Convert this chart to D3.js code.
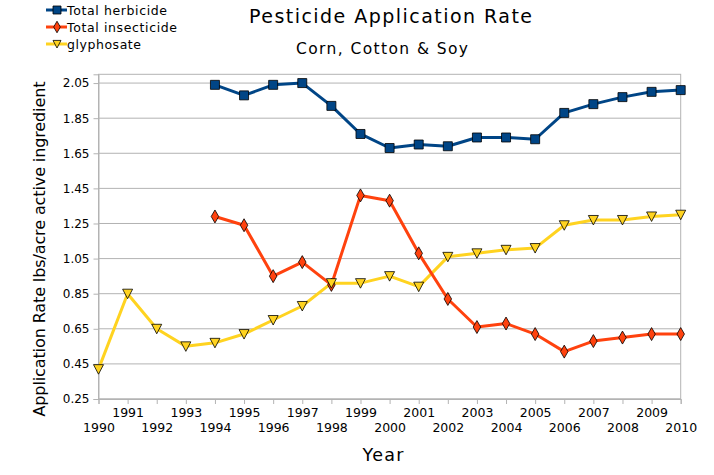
<!DOCTYPE html>
<html><head><meta charset="utf-8">
<script src="https://cdn.jsdelivr.net/npm/d3@7"></script>
<style>body{margin:0;background:#fff}svg{display:block;font-family:"DejaVu Sans",sans-serif}</style>
</head><body><svg id="c" width="714" height="475"></svg>
<script>
const years = d3.range(1990, 2011);
const yTicks = [0.25,0.45,0.65,0.85,1.05,1.25,1.45,1.65,1.85,2.05];
const herbYears = d3.range(1994, 2011);
const herbicide = [2.04,1.98,2.04,2.05,1.92,1.76,1.68,1.70,1.69,1.74,1.74,1.73,1.88,1.93,1.97,2.00,2.01];
const insectYears = d3.range(1994, 2011);
const insecticide = [1.29,1.24,0.95,1.03,0.90,1.41,1.38,1.08,0.82,0.66,0.68,0.62,0.52,0.58,0.60,0.62,0.62];
const glyYears = d3.range(1990, 2011);
const glyphosate = [0.42,0.85,0.65,0.55,0.57,0.62,0.70,0.78,0.91,0.91,0.95,0.89,1.06,1.08,1.10,1.11,1.24,1.27,1.27,1.29,1.30];
const seriesNames = ["Total herbicide","Total insecticide","glyphosate"];
const colors = ["#004586","#ff420e","#ffd320"];
const symbols = [d3.symbolSquare, d3.symbolDiamond, "tri"];

const svg = d3.select("#c");
const L=98.5, R=680.7, T=74.3, B=399;
const x = d3.scalePoint().domain(years).range([L,R]);
const y = d3.scaleLinear().domain([0.25,2.1]).range([B,T]);

// grid
svg.append("g").selectAll("line").data(yTicks).join("line")
 .attr("x1",L).attr("x2",R).attr("y1",d=>y(d)).attr("y2",d=>y(d))
 .attr("stroke","#b3b3b3").attr("stroke-width",1);
svg.append("rect").attr("x",L).attr("y",T).attr("width",R-L).attr("height",B-T)
 .attr("fill","none").attr("stroke","#b3b3b3");

// y axis
const ya = svg.append("g").attr("transform",`translate(${L},0)`)
 .call(d3.axisLeft(y).tickValues(yTicks).tickFormat(d3.format(".2f")).tickSize(5).tickPadding(4));
ya.select(".domain").attr("stroke","#b3b3b3");
ya.selectAll(".tick line").attr("stroke","#b3b3b3");
ya.selectAll("text").attr("font-size",12).attr("font-family","DejaVu Sans").attr("fill","#000");

// x axis
const xa = svg.append("g").attr("transform",`translate(0,${B})`)
 .call(d3.axisBottom(x).tickSize(5).tickPadding(4));
xa.select(".domain").attr("stroke","#b3b3b3");
xa.selectAll(".tick line").attr("stroke","#b3b3b3");
xa.selectAll("text").attr("font-size",12.5).attr("font-family","DejaVu Sans").attr("fill","#000")
 .attr("dy",(d)=> (d%2===1) ? "0.71em" : "1.9em");

function markerPath(i, size){
  if(symbols[i]==="tri"){
    const s=size;
    return `M${-s/2},${-s*0.45}L${s/2},${-s*0.45}L0,${s*0.5}Z`;
  }
  return d3.symbol().type(symbols[i]).size(symbols[i]===d3.symbolSquare?size*size:size*size*0.6)();
}

const data = [
 herbYears.map((yr,i)=>({yr,v:herbicide[i]})),
 insectYears.map((yr,i)=>({yr,v:insecticide[i]})),
 glyYears.map((yr,i)=>({yr,v:glyphosate[i]}))
];
const line = d3.line().x(d=>x(d.yr)).y(d=>y(d.v));
[2,1,0].forEach(i=>{
  svg.append("path").datum(data[i]).attr("d",line).attr("fill","none")
   .attr("stroke",colors[i]).attr("stroke-width",3).attr("stroke-linejoin","round");
});
const msize=[9,9,10];
[0,1,2].forEach(i=>{
  svg.append("g").selectAll("path").data(data[i]).join("path")
   .attr("transform",d=>`translate(${x(d.yr)},${y(d.v)})`)
   .attr("d",markerPath(i,msize[i])).attr("fill",colors[i]).attr("stroke","#000").attr("stroke-width",0.8);
});

function txt(t, xx, yy, size, len, anchor){
  const e = svg.append("text").attr("x",xx).attr("y",yy).attr("font-size",size)
   .attr("text-anchor",anchor||"start").attr("fill","#000").text(t);
  if(len) e.attr("textLength",len).attr("lengthAdjust","spacing");
  return e;
}

// legend
const legLen=[100,110,74];
seriesNames.forEach((n,i)=>{
  const cy = 10 + i*17;
  svg.append("line").attr("x1",46).attr("x2",67).attr("y1",cy).attr("y2",cy)
   .attr("stroke",colors[i]).attr("stroke-width",3);
  svg.append("path").attr("transform",`translate(57,${cy})`).attr("d",markerPath(i,8))
   .attr("fill",colors[i]).attr("stroke","#000").attr("stroke-width",0.8);
  txt(n, 67, cy+4.5, 12.5, legLen[i]);
});

// titles
txt("Pesticide Application Rate", 390.5, 22.7, 19, 283, "middle");
txt("Corn, Cotton & Soy", 382, 54, 15.5, 172, "middle");
txt("Year", 383, 460.7, 17.5, 41, "middle");
svg.append("text").attr("transform","translate(44.6,249) rotate(-90)").attr("text-anchor","middle")
 .attr("font-size",16).attr("textLength",335).attr("lengthAdjust","spacing")
 .text("Application Rate lbs/acre active ingredient");
</script></body></html>
